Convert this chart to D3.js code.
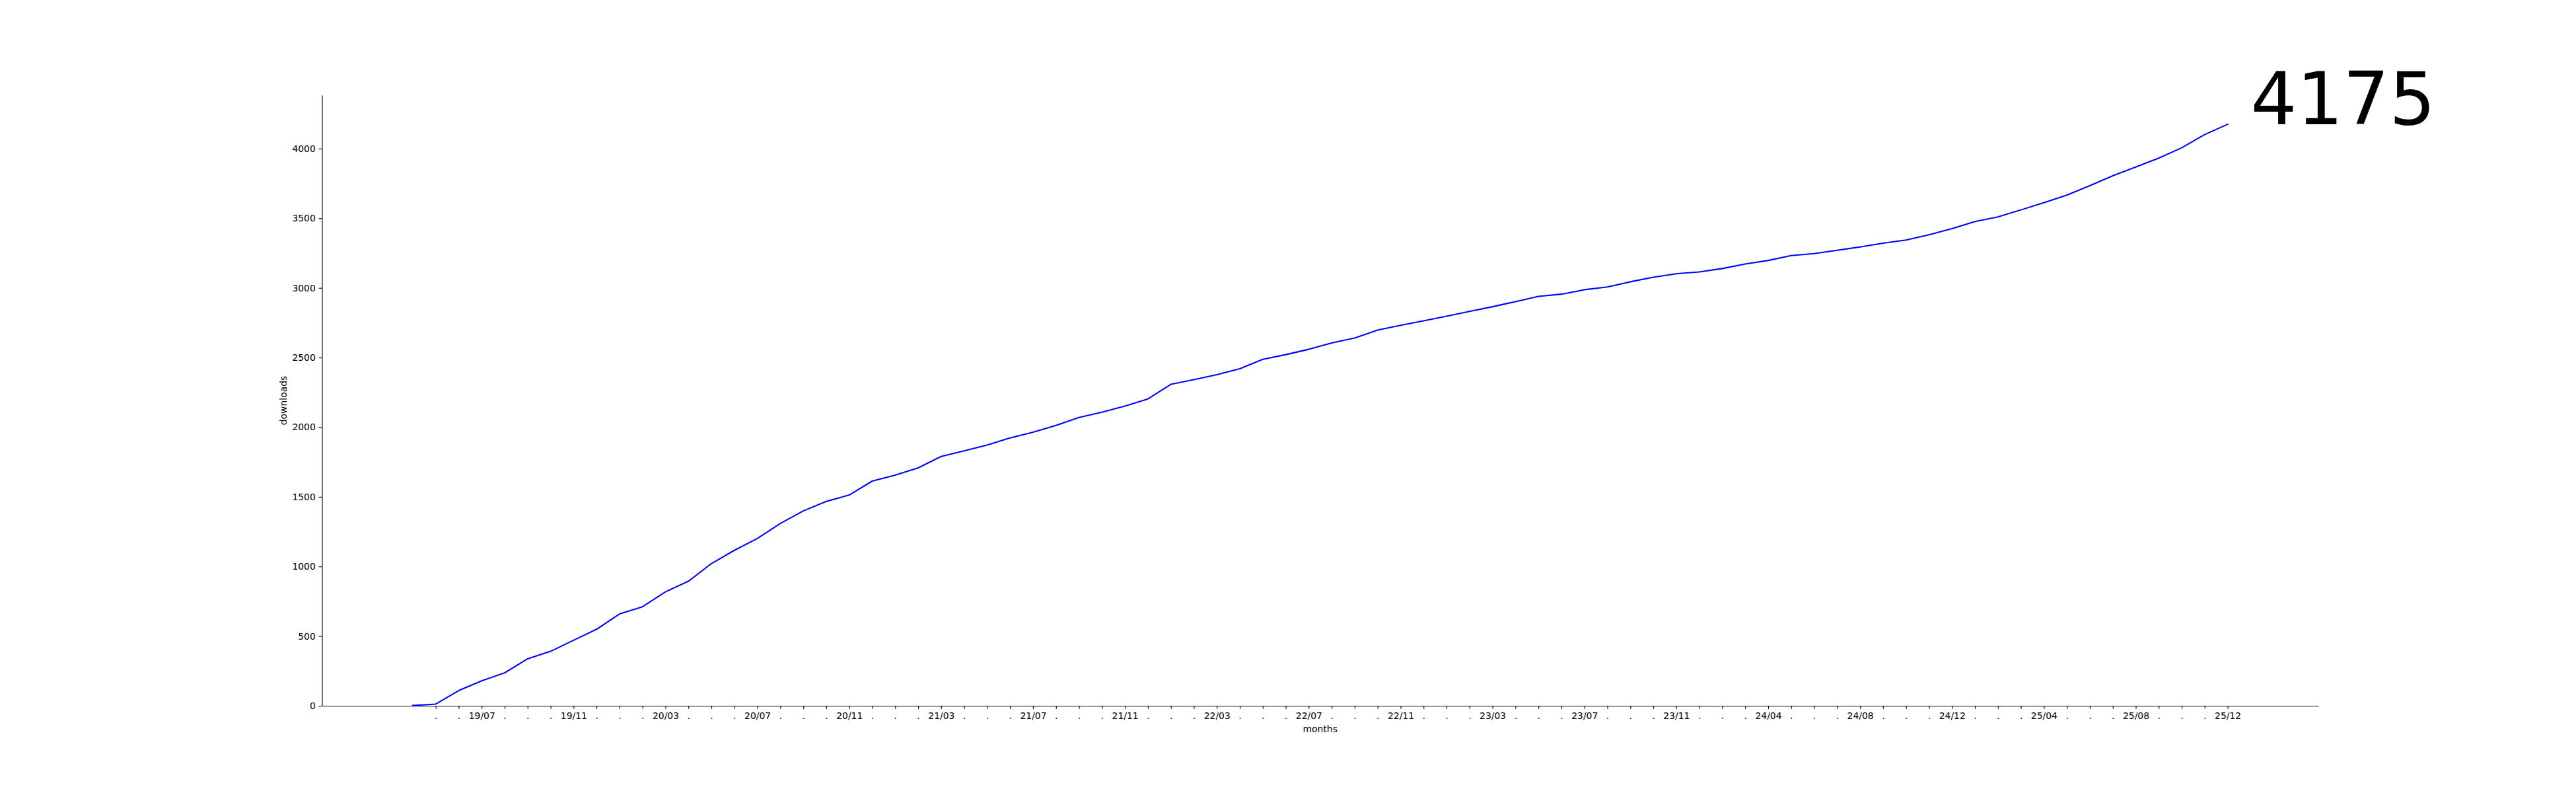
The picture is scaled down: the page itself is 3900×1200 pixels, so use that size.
<!DOCTYPE html>
<html>
    <head>
        <title>Downloads</title>
        <script src="https://cdn.jsdelivr.net/npm/d3@7"></script>
        <style>
            body { margin: 0; background: #ffffff; }
            text { font-family: "DejaVu Sans", sans-serif; }
        </style>
    </head>
    <body>
        <svg width="3900" height="1200" id="mainsvg"></svg>
        <script>
            // data
            const months = [
                "19/04", "19/05", "19/06", "19/07", "19/08", "19/09", "19/10", "19/11", "19/12", "20/01",
                "20/02", "20/03", "20/04", "20/05", "20/06", "20/07", "20/08", "20/09", "20/10", "20/11",
                "20/12", "21/01", "21/02", "21/03", "21/04", "21/05", "21/06", "21/07", "21/08", "21/09",
                "21/10", "21/11", "21/12", "22/01", "22/02", "22/03", "22/04", "22/05", "22/06", "22/07",
                "22/08", "22/09", "22/10", "22/11", "22/12", "23/01", "23/02", "23/03", "23/04", "23/05",
                "23/06", "23/07", "23/08", "23/09", "23/10", "23/11", "23/12", "24/01", "24/03", "24/04",
                "24/05", "24/06", "24/07", "24/08", "24/09", "24/10", "24/11", "24/12", "25/01", "25/02",
                "25/03", "25/04", "25/05", "25/06", "25/07", "25/08", "25/09", "25/10", "25/11", "25/12"
            ];
            const downloads = [
                2, 12, 109, 179, 236, 337, 391, 470, 549, 659,
                711, 818, 894, 1021, 1116, 1201, 1309, 1399, 1467, 1513,
                1613, 1656, 1708, 1790, 1830, 1872, 1923, 1964, 2013, 2070,
                2108, 2151, 2203, 2308, 2341, 2377, 2420, 2487, 2521, 2559,
                2605, 2640, 2697, 2732, 2764, 2797, 2831, 2865, 2901, 2939,
                2955, 2987, 3007, 3044, 3077, 3102, 3115, 3139, 3172, 3197,
                3232, 3246, 3270, 3294, 3321, 3344, 3382, 3425, 3476, 3510,
                3560, 3612, 3666, 3734, 3805, 3868, 3932, 4006, 4101, 4175
            ];
            const yTicks = [0, 500, 1000, 1500, 2000, 2500, 3000, 3500, 4000];

            const main_svg = d3.select("#mainsvg");
            const width = +main_svg.attr("width");
            const height = +main_svg.attr("height");
            const margin = {top: 144, right: 390, bottom: 132, left: 487.5};
            const inner_width = width - margin.left - margin.right;
            const inner_height = height - margin.top - margin.bottom;

            main_svg.append("rect").attr("width", width).attr("height", height).attr("fill", "#ffffff");

            const n = downloads.length;
            const last = downloads[n - 1];
            // matplotlib-like 5% margins, y starts at 0
            const xPad = (n - 1) * 0.05;
            const xScale = d3.scaleLinear()
                .domain([-xPad, n - 1 + xPad])
                .range([0, inner_width]);
            const yScale = d3.scaleLinear()
                .domain([0, last * 1.05])
                .range([inner_height, 0]);

            const g = main_svg.append("g")
                .attr("transform", `translate(${margin.left}, ${margin.top})`);

            const tickLen = 4.86;
            const fontSize = 13.9;

            // x axis: every data point after the first gets a tick, every 4th is labelled
            const xAxis = d3.axisBottom(xScale)
                .tickValues(d3.range(1, n))
                .tickFormat(i => ((i - 3) % 4 === 0 ? months[i] : "."))
                .tickSize(tickLen)
                .tickSizeOuter(0)
                .tickPadding(tickLen);
            const xAxisGroup = g.append("g")
                .attr("transform", `translate(0, ${inner_height})`)
                .call(xAxis);

            const yAxis = d3.axisLeft(yScale)
                .tickValues(yTicks)
                .tickFormat(d3.format("d"))
                .tickSize(tickLen)
                .tickSizeOuter(0)
                .tickPadding(tickLen);
            const yAxisGroup = g.append("g").call(yAxis);

            [xAxisGroup, yAxisGroup].forEach(ax => {
                ax.selectAll(".domain").attr("stroke", "#000").attr("stroke-width", 1.11);
                ax.selectAll(".tick line").attr("stroke", "#000").attr("stroke-width", 1.11);
                ax.selectAll(".tick text")
                    .attr("fill", "#000")
                    .attr("font-size", fontSize)
                    .attr("font-family", "DejaVu Sans");
            });

            // axis labels
            g.append("text")
                .attr("x", inner_width / 2)
                .attr("y", 1108 - margin.top)
                .attr("text-anchor", "middle")
                .attr("font-size", fontSize)
                .attr("fill", "#000")
                .text("months");

            g.append("text")
                .attr("transform", `translate(${434 - margin.left}, ${inner_height / 2}) rotate(-90)`)
                .attr("text-anchor", "middle")
                .attr("font-size", fontSize)
                .attr("fill", "#000")
                .text("downloads");

            // line
            const line = d3.line()
                .x((d, i) => xScale(i))
                .y(d => yScale(d));
            g.append("path")
                .datum(downloads)
                .attr("d", line)
                .attr("fill", "none")
                .attr("stroke", "#0000ff")
                .attr("stroke-width", 2.08)
                .attr("stroke-linejoin", "round")
                .attr("stroke-linecap", "square");

            // last value annotation
            g.append("text")
                .attr("x", xScale(n))
                .attr("y", yScale(last))
                .attr("font-size", 110)
                .attr("fill", "#000")
                .text(last);
        </script>
    </body>
</html>
